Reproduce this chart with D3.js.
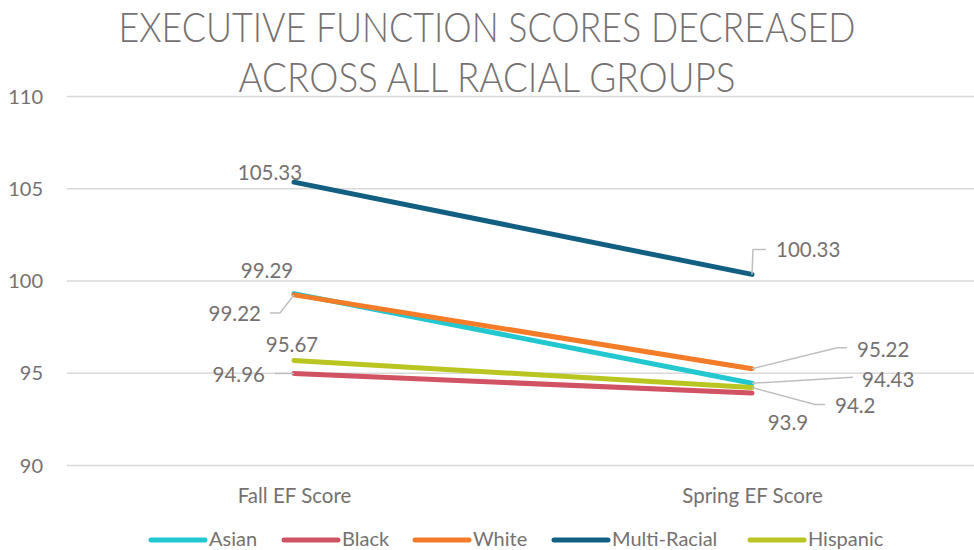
<!DOCTYPE html>
<html>
<head>
<meta charset="utf-8">
<script src="https://cdn.jsdelivr.net/npm/d3@7/dist/d3.min.js"></script>
<style>
  body { margin: 0; background: #fff; }
  text { font-family: Lato, "Open Sans", sans-serif; fill: #767171; }
</style>
</head>
<body>
<div id="chart-area"></div>
<script>
// data
const categories = ["Fall EF Score", "Spring EF Score"];
const seriesNames = ["Asian", "Black", "White", "Multi-Racial", "Hispanic"];
const asian = [99.29, 94.43];
const black = [94.96, 93.9];
const white = [99.22, 95.22];
const multiRacial = [105.33, 100.33];
const hispanic = [95.67, 94.2];
const yTicks = [90, 95, 100, 105, 110];
const titleLines = ["EXECUTIVE FUNCTION SCORES DECREASED", "ACROSS ALL RACIAL GROUPS"];

const seriesValues = [asian, black, white, multiRacial, hispanic];
const colors = ["#22c7d0", "#d15262", "#f47c28", "#135f82", "#b9c521"];

// label placement (layout only): offset from point, anchor, optional leader path offsets
const labelLayout = {
  "Asian":        [{dx: -27, dy: -16, anchor: "middle"}, {dx: 110, dy: 4, anchor: "start", leader: [[0, 0], [101, -6]]}],
  "Black":        [{dx: -29, dy: 9, anchor: "end", leader: [[0, 0], [-19, 0]]}, {dx: 36, dy: 37, anchor: "middle"}],
  "White":        [{dx: -33, dy: 26, anchor: "end", leader: [[0, 0], [-14, 18], [-24, 18]]}, {dx: 105, dy: -12, anchor: "start", leader: [[0, 0], [85, -21], [95, -21]]}],
  "Multi-Racial": [{dx: -24, dy: -2, anchor: "middle"}, {dx: 24, dy: -17, anchor: "start", leader: [[0, 0], [1, -25], [14, -25]]}],
  "Hispanic":     [{dx: -2, dy: -8, anchor: "middle"}, {dx: 83, dy: 25, anchor: "start", leader: [[0, 0], [63, 17], [73, 17]]}]
};

const svgWidth = 974, svgHeight = 550;
const plot = { left: 65, right: 981, top: 96, bottom: 465 };

const svg = d3.select("#chart-area").append("svg")
    .attr("width", svgWidth)
    .attr("height", svgHeight);

// scales
const xScale = d3.scalePoint().domain(categories).range([plot.left, plot.right]).padding(0.5);
const yScale = d3.scaleLinear().domain([90, 110]).range([plot.bottom, plot.top]);

// gridlines
svg.append("g")
    .attr("transform", "translate(" + 67 + ",0)")
    .call(d3.axisLeft(yScale).tickValues(yTicks).tickSize(-(svgWidth - 67)).tickFormat(""))
    .call(g => g.select(".domain").remove())
    .call(g => g.selectAll("line").attr("stroke", "#d9d9d9").attr("stroke-width", 1.5));

// y axis labels
svg.append("g")
    .attr("transform", "translate(" + 67 + ",0)")
    .call(d3.axisLeft(yScale).tickValues(yTicks).tickSize(0).tickPadding(24))
    .call(g => g.select(".domain").remove())
    .call(g => g.selectAll("text").attr("font-size", "20px").attr("fill", "#767171")
        .style("font-family", "Lato, sans-serif").attr("dy", "0.36em"));

// x axis labels
svg.append("g")
    .attr("transform", "translate(0," + 503 + ")")
    .call(d3.axisBottom(xScale).tickSize(0).tickPadding(0))
    .call(g => g.select(".domain").remove())
    .call(g => g.selectAll("text").attr("font-size", "20.5px").attr("fill", "#767171")
        .style("font-family", "Lato, sans-serif").attr("dy", 0));

// title
const titleWidths = [737, 497];
svg.append("g").selectAll("text")
    .data(titleLines)
    .join("text")
    .attr("x", svgWidth / 2)
    .attr("y", (d, i) => 42 + i * 50)
    .attr("text-anchor", "middle")
    .attr("font-size", "41px")
    .attr("font-weight", 300)
    .attr("fill", "#7b7671")
    .attr("textLength", (d, i) => titleWidths[i])
    .attr("lengthAdjust", "spacingAndGlyphs")
    .text(d => d);

// lines
const line = d3.line()
    .x((d, i) => xScale(categories[i]))
    .y(d => yScale(d));

const drawOrder = [3, 0, 2, 1, 4];
svg.append("g").selectAll("path")
    .data(drawOrder)
    .join("path")
    .attr("fill", "none")
    .attr("stroke", k => colors[k])
    .attr("stroke-width", 5)
    .attr("stroke-linecap", "round")
    .attr("d", k => line(seriesValues[k]));

// data labels + leader lines
const labels = svg.append("g");
seriesNames.forEach(function(name, k) {
    seriesValues[k].forEach(function(v, i) {
        const px = xScale(categories[i]), py = yScale(v);
        const lay = labelLayout[name][i];
        if (lay.leader) {
            labels.append("path")
                .attr("fill", "none")
                .attr("stroke", "#bfbfbf")
                .attr("stroke-width", 1.5)
                .attr("d", d3.line()(lay.leader.map(p => [px + p[0], py + p[1]])));
        }
        labels.append("text")
            .attr("x", px + lay.dx)
            .attr("y", py + lay.dy)
            .attr("text-anchor", lay.anchor)
            .attr("font-size", "20.5px")
            .text(v);
    });
});

// legend
const legendX = [151, 284, 415, 554, 750];
const legend = svg.append("g").attr("transform", "translate(0,540)");
seriesNames.forEach(function(name, k) {
    legend.append("line")
        .attr("x1", legendX[k]).attr("x2", legendX[k] + 54)
        .attr("y1", 0).attr("y2", 0)
        .attr("stroke", colors[k])
        .attr("stroke-width", 5)
        .attr("stroke-linecap", "round");
    legend.append("text")
        .attr("x", legendX[k] + 58)
        .attr("y", 6)
        .attr("font-size", "20px")
        .text(name);
});
</script>
</body>
</html>
